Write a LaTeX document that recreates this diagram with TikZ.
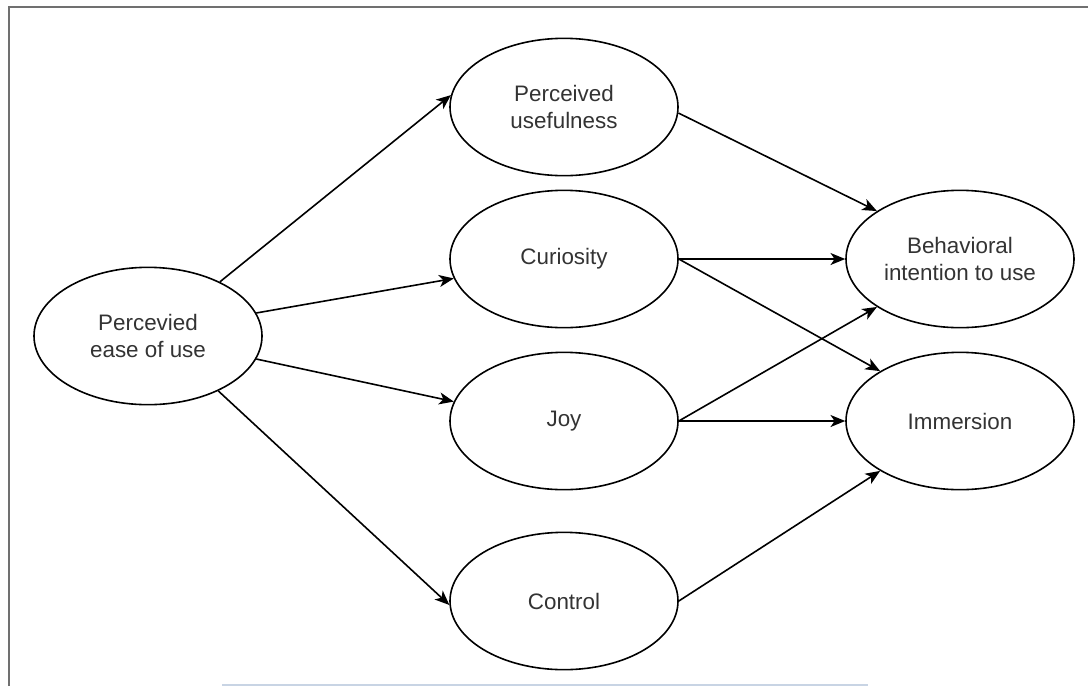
\documentclass[tikz,border=0pt]{standalone}
\usepackage{fontspec}
\setmainfont{Liberation Sans}
\usetikzlibrary{shapes.geometric,arrows.meta}
\definecolor{framegray}{RGB}{112,112,112}
\definecolor{paleblue}{RGB}{200,212,228}
\definecolor{labelgray}{RGB}{51,51,51}
\begin{document}
\begin{tikzpicture}[x=0.75pt,y=-0.75pt,
  construct/.style={ellipse,draw,line width=1.2pt,minimum width=171pt,minimum height=103pt,
    inner sep=0pt,align=center,text=labelgray,font=\fontsize{16.8}{20.5}\selectfont},
  link/.style={-{Stealth[length=11pt,width=9pt,inset=3pt]},line width=1.2pt}]
\useasboundingbox (0,0) rectangle (1088,686);
\draw[framegray,line width=1.6pt] (9,686) -- (9,7) -- (1088,7);
\draw[paleblue,line width=1.6pt] (222,685) -- (868,685);

\node [construct] (ease) at (148,336) {Percevied\\ease of use};
\node [construct] (useful) at (564,107) {Perceived\\usefulness};
\node [construct] (curious) at (564,259) {Curiosity};
\node [construct] (joy) at (564,421) {Joy};
\node [construct] (control) at (564,601) {Control};
\node [construct] (intent) at (960,259) {Behavioral\\intention to use};
\node [construct] (immerse) at (960,421) {Immersion};

\draw [link] (ease.37) -- (useful.174);
\draw [link] (ease.12) -- (curious.190);
\draw [link] (ease.-12) -- (joy.170);
\draw [link] (ease.-38) -- (control.182);
\draw [link] (useful.-3) -- (intent.150);
\draw [link] (curious.east) -- (intent.west);
\draw [link] (curious.east) -- (immerse.148);
\draw [link] (joy.east) -- (intent.210);
\draw [link] (joy.east) -- (immerse.west);
\draw [link] (control.east) -- (immerse.212);
\end{tikzpicture}
\end{document}
